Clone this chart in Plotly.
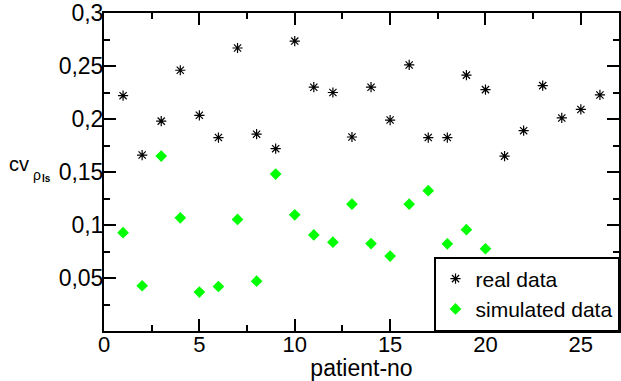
import plotly.graph_objects as go

patients_real = list(range(1, 27))
real_data = [0.222, 0.166, 0.198, 0.246, 0.2035, 0.1825, 0.267, 0.1857, 0.172, 0.2735,
             0.230, 0.225, 0.183, 0.230, 0.199, 0.251, 0.1825, 0.1825, 0.2414, 0.2277,
             0.165, 0.189, 0.2315, 0.201, 0.209, 0.2227]
patients_sim = list(range(1, 21))
sim_data = [0.0928, 0.0427, 0.165, 0.1068, 0.0367, 0.042, 0.1053, 0.047, 0.148, 0.1096,
            0.0906, 0.0838, 0.1196, 0.0825, 0.0707, 0.1196, 0.1324, 0.0822, 0.0956, 0.0776]

x_ticks = [0, 5, 10, 15, 20, 25]
y_ticks = [0.05, 0.1, 0.15, 0.2, 0.25, 0.3]
y_tick_labels = ["0,05", "0,1", "0,15", "0,2", "0,25", "0,3"]

FONT = "Liberation Sans, Arial, Helvetica, sans-serif"

fig = go.Figure()
fig.add_trace(go.Scatter(x=patients_real, y=real_data, mode="markers", name="real data",
                         marker=dict(symbol="asterisk-open", size=8.5, color="black",
                                     line=dict(color="black", width=1.2))))
fig.add_trace(go.Scatter(x=patients_sim, y=sim_data, mode="markers", name="simulated data",
                         marker=dict(symbol="diamond", size=9, color="#00ff00",
                                     line=dict(width=0))))

axis_common = dict(showline=True, linecolor="black", linewidth=2, mirror="allticks",
                   ticks="inside", ticklen=12, tickwidth=2, tickcolor="black",
                   showgrid=False, zeroline=False, ticklabeloverflow="allow")

fig.update_xaxes(range=[0, 27], tickvals=x_ticks, ticklabelstandoff=-7,
                 tickfont=dict(family=FONT, size=22, color="black"),
                 minor=dict(dtick=2.5, tick0=0, ticks="inside", ticklen=6, tickwidth=2, tickcolor="black"),
                 title=dict(text="patient-no", font=dict(family=FONT, size=23, color="black"), standoff=6),
                 **axis_common)
fig.update_yaxes(range=[0, 0.3], tickvals=y_ticks, ticktext=y_tick_labels, ticklabelstandoff=-6,
                 tickfont=dict(family=FONT, size=23, color="black"),
                 minor=dict(dtick=0.025, tick0=0, ticks="inside", ticklen=6, tickwidth=2, tickcolor="black"),
                 **axis_common)

ann_font = dict(family=FONT, color="black")
fig.add_annotation(text="cv", x=(7 - 104) / 517, y=(331 - 162) / 321, xref="paper", yref="paper",
                   xanchor="left", yanchor="middle", showarrow=False, font=dict(size=20, **ann_font))
fig.add_annotation(text="ρ", x=(31 - 104) / 517, y=(331 - 174) / 321, xref="paper", yref="paper",
                   xanchor="left", yanchor="middle", showarrow=False, font=dict(size=14, **ann_font))
fig.add_annotation(text="<b>ls</b>", x=(40 - 104) / 517, y=(331 - 177) / 321, xref="paper", yref="paper",
                   xanchor="left", yanchor="middle", showarrow=False, font=dict(size=10, **ann_font))

fig.update_layout(width=621, height=381, margin=dict(l=104, r=0, t=10, b=50),
                  plot_bgcolor="white", paper_bgcolor="white", separators=",.",
                  font=dict(family=FONT, size=21, color="black"),
                  legend=dict(x=1, y=0, xanchor="right", yanchor="bottom",
                              bgcolor="white", bordercolor="black", borderwidth=1.5,
                              font=dict(family=FONT, size=21, color="black"),
                              tracegroupgap=0, itemsizing="trace"),
                  showlegend=True)

fig.write_html("out.html", config={"displayModeBar": False},
               post_script="document.body.style.margin='0';document.body.style.overflow='hidden';")
